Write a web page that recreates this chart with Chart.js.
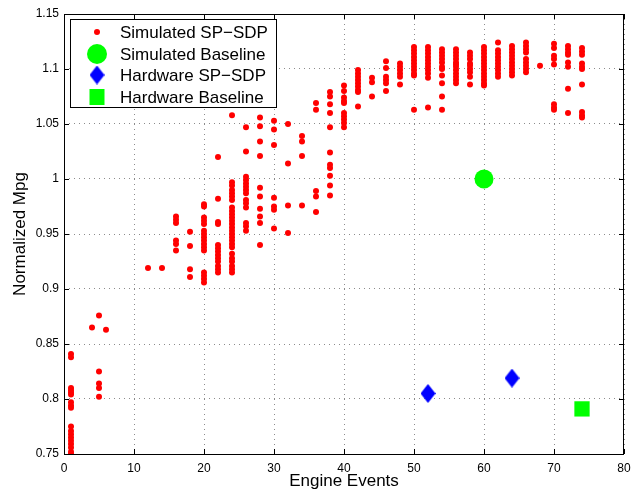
<!DOCTYPE html>
<html lang="en">
<head>
    <meta charset="UTF-8">
    <title>Normalized Mpg vs Engine Events</title>
    <script src="https://cdn.jsdelivr.net/npm/chart.js"></script>
    <style>
        body { margin: 0; background: #fff; }
        canvas { display: block; }
    </style>
</head>
<body>
    <canvas id="mpg-chart" width="639" height="493"></canvas>

    <script>
        // simulated SP-SDP: one list of normalized mpg values per engine-event count
        const simEvents = [1, 4, 5, 6, 12, 14, 16, 18, 20, 22, 24, 26, 28, 30, 32, 34, 36, 38,
            40, 42, 44, 46, 48, 50, 52, 54, 56, 58, 60, 62, 64, 66, 68, 70, 72, 74];
        const simMpg = [
            [0.841, 0.838, 0.81, 0.808, 0.806, 0.804, 0.797, 0.794, 0.792, 0.775, 0.771, 0.768, 0.765, 0.762, 0.759, 0.756, 0.752, 0.75],
            [0.865],
            [0.876, 0.825, 0.814, 0.81, 0.802],
            [0.863],
            [0.919],
            [0.919],
            [0.966, 0.963, 0.96, 0.944, 0.941, 0.935],
            [0.952, 0.939, 0.918, 0.911],
            [0.977, 0.975, 0.965, 0.962, 0.959, 0.953, 0.95, 0.947, 0.944, 0.941, 0.938, 0.935, 0.915, 0.912, 0.909, 0.906],
            [1.02, 0.982, 0.961, 0.959, 0.94, 0.937, 0.934, 0.931, 0.928, 0.925, 0.921, 0.918, 0.915],
            [1.058, 0.997, 0.994, 0.99, 0.987, 0.984, 0.981, 0.974, 0.971, 0.968, 0.965, 0.962, 0.959, 0.956, 0.953, 0.95, 0.947, 0.944, 0.941, 0.938, 0.932, 0.928, 0.925, 0.921, 0.918, 0.915],
            [1.047, 1.025, 1.002, 0.999, 0.996, 0.993, 0.99, 0.987, 0.981, 0.978, 0.974, 0.96, 0.957, 0.953],
            [1.056, 1.048, 1.034, 1.021, 0.992, 0.984, 0.973, 0.966, 0.96, 0.94],
            [1.053, 1.045, 1.031, 0.983, 0.975, 0.972, 0.955],
            [1.05, 1.014, 0.976, 0.951],
            [1.039, 1.034, 1.021, 0.976],
            [1.069, 1.063, 0.989, 0.984, 0.97],
            [1.079, 1.075, 1.068, 1.06, 1.047, 1.024, 1.013, 1.01, 1.003, 0.994, 0.985],
            [1.085, 1.08, 1.074, 1.071, 1.069, 1.06, 1.057, 1.054, 1.051, 1.047],
            [1.099, 1.096, 1.093, 1.09, 1.087, 1.084, 1.081, 1.079, 1.066],
            [1.092, 1.088, 1.075],
            [1.107, 1.101, 1.093, 1.09, 1.087, 1.08],
            [1.105, 1.102, 1.099, 1.096, 1.093, 1.086],
            [1.12, 1.117, 1.114, 1.111, 1.108, 1.105, 1.102, 1.099, 1.096, 1.094, 1.063],
            [1.12, 1.117, 1.114, 1.111, 1.108, 1.105, 1.102, 1.099, 1.096, 1.092, 1.065],
            [1.118, 1.115, 1.112, 1.109, 1.106, 1.102, 1.1, 1.094, 1.087, 1.075, 1.063],
            [1.118, 1.115, 1.112, 1.109, 1.106, 1.104, 1.102, 1.099, 1.096, 1.093, 1.09, 1.087],
            [1.115, 1.112, 1.109, 1.105, 1.103, 1.1, 1.097, 1.093, 1.086],
            [1.12, 1.117, 1.114, 1.111, 1.108, 1.105, 1.102, 1.099, 1.096, 1.093, 1.09, 1.087, 1.085],
            [1.124, 1.117, 1.114, 1.111, 1.108, 1.105, 1.102, 1.099, 1.096, 1.093],
            [1.121, 1.118, 1.115, 1.112, 1.109, 1.106, 1.103, 1.1, 1.097, 1.094],
            [1.124, 1.121, 1.118, 1.115, 1.109, 1.106, 1.103, 1.1, 1.097],
            [1.103],
            [1.123, 1.119, 1.112, 1.109, 1.104, 1.068, 1.065, 1.063],
            [1.121, 1.118, 1.115, 1.113, 1.106, 1.102, 1.082, 1.06],
            [1.119, 1.116, 1.113, 1.105, 1.102, 1.1, 1.086, 1.061, 1.058, 1.056]
        ];

        const simBaseEvents = [60];
        const simBaseMpg = [1.0];
        const hwEvents = [52, 64];
        const hwMpg = [0.805, 0.819];
        const hwBaseEvents = [74];
        const hwBaseMpg = [0.791];

        const seriesNames = ['Simulated SP\u2212SDP', 'Simulated Baseline', 'Hardware SP\u2212SDP', 'Hardware Baseline'];
        const xTicks = [0, 10, 20, 30, 40, 50, 60, 70, 80];
        const yTicks = [0.75, 0.8, 0.85, 0.9, 0.95, 1, 1.05, 1.1, 1.15];

        const fontFamily = '"Liberation Sans", Arial, Helvetica, sans-serif';

        function toPoints(xs, ys) {
            return xs.map((x, i) => ({ x: x, y: ys[i] }));
        }

        let simPoints = [];
        simEvents.forEach((ev, i) => {
            simMpg[i].forEach((v) => simPoints.push({ x: ev, y: v }));
        });

        // matlab style diamond, taller than wide
        const diamond = document.createElement('canvas');
        diamond.width = 15;
        diamond.height = 19;
        const dctx = diamond.getContext('2d');
        dctx.fillStyle = '#0000ff';
        dctx.beginPath();
        dctx.moveTo(7.5, 0);
        dctx.lineTo(15, 9.5);
        dctx.lineTo(7.5, 19);
        dctx.lineTo(0, 9.5);
        dctx.closePath();
        dctx.fill();

        const datasets = [
            { label: seriesNames[0], data: simPoints, pointStyle: 'circle', pointRadius: 3, backgroundColor: '#ff0000', borderWidth: 0 },
            { label: seriesNames[1], data: toPoints(simBaseEvents, simBaseMpg), pointStyle: 'circle', pointRadius: 9.5, backgroundColor: '#00ff00', borderWidth: 0 },
            { label: seriesNames[2], data: toPoints(hwEvents, hwMpg), pointStyle: diamond, pointRadius: 9, backgroundColor: '#0000ff', borderWidth: 0 },
            { label: seriesNames[3], data: toPoints(hwBaseEvents, hwBaseMpg), pointStyle: 'rect', pointRadius: 10.8, backgroundColor: '#00ff00', borderWidth: 0 }
        ];

        // box, inward ticks and the legend, drawn on top like matlab does
        const matlabFrame = {
            id: 'matlabFrame',
            afterDraw(chart) {
                const { ctx, chartArea: a, scales } = chart;
                ctx.save();
                ctx.strokeStyle = '#000';
                ctx.lineWidth = 1;
                ctx.strokeRect(a.left + 0.5, a.top + 0.5, a.right - a.left - 1, a.bottom - a.top);

                ctx.beginPath();
                xTicks.forEach((t) => {
                    const px = Math.round(scales.x.getPixelForValue(t)) + 0.5;
                    ctx.moveTo(px, a.bottom); ctx.lineTo(px, a.bottom - 5);
                    ctx.moveTo(px, a.top); ctx.lineTo(px, a.top + 5);
                });
                yTicks.forEach((t) => {
                    const py = Math.round(scales.y.getPixelForValue(t)) + 0.5;
                    ctx.moveTo(a.left, py); ctx.lineTo(a.left + 5, py);
                    ctx.moveTo(a.right, py); ctx.lineTo(a.right - 5, py);
                });
                ctx.stroke();

                // legend
                const lx = a.left + 6, ly = a.top + 5, lw = 206, lh = 88;
                ctx.fillStyle = '#fff';
                ctx.fillRect(lx, ly, lw, lh);
                ctx.strokeRect(lx + 0.5, ly + 0.5, lw, lh);

                const rows = [32, 54, 75, 97];
                const mx = 97;
                datasets.forEach((ds, i) => {
                    const y = rows[i];
                    ctx.fillStyle = ds.backgroundColor;
                    if (i === 0) {
                        ctx.beginPath(); ctx.arc(mx, y, 3, 0, Math.PI * 2); ctx.fill();
                    } else if (i === 1) {
                        ctx.beginPath(); ctx.arc(mx, y, 10, 0, Math.PI * 2); ctx.fill();
                    } else if (i === 2) {
                        ctx.drawImage(diamond, mx - 7.5, y - 9.5);
                    } else {
                        ctx.fillRect(mx - 7.5, y - 8, 15, 16);
                    }
                    ctx.fillStyle = '#000';
                    ctx.font = '17px ' + fontFamily;
                    ctx.textBaseline = 'middle';
                    ctx.textAlign = 'left';
                    ctx.fillText(ds.label, 120, y + 1);
                });
                ctx.restore();
            }
        };

        const gridStyle = { color: '#8c8c8c', lineWidth: 1, drawTicks: false };

        new Chart(document.getElementById('mpg-chart'), {
            type: 'scatter',
            data: { datasets: datasets },
            options: {
                responsive: false,
                animation: false,
                layout: { padding: { top: 14, right: 15, left: 0, bottom: 0 } },
                plugins: {
                    legend: { display: false },
                    tooltip: { enabled: false }
                },
                scales: {
                    x: {
                        type: 'linear',
                        min: 0,
                        max: 80,
                        afterBuildTicks: (s) => { s.ticks = xTicks.map((v) => ({ value: v })); },
                        afterFit: (s) => { s.height = 39; },
                        ticks: { padding: 7, color: '#000', font: { family: fontFamily, size: 12 }, maxRotation: 0 },
                        grid: gridStyle,
                        border: { display: false, dash: [1, 4] },
                        title: { display: true, text: 'Engine Events', color: '#000', font: { family: fontFamily, size: 17 }, padding: { top: 0, bottom: 1 } }
                    },
                    y: {
                        min: 0.75,
                        max: 1.15,
                        afterBuildTicks: (s) => { s.ticks = yTicks.map((v) => ({ value: v })); },
                        afterFit: (s) => { s.width = 64; },
                        ticks: {
                            padding: 5,
                            color: '#000',
                            font: { family: fontFamily, size: 12 },
                            callback: (v) => String(Number(v.toFixed(2)))
                        },
                        grid: gridStyle,
                        border: { display: false, dash: [1, 4] },
                        title: { display: true, text: 'Normalized Mpg', color: '#000', font: { family: fontFamily, size: 17 }, padding: { top: 10, bottom: 0 } }
                    }
                }
            },
            plugins: [matlabFrame]
        });
    </script>
</body>
</html>
